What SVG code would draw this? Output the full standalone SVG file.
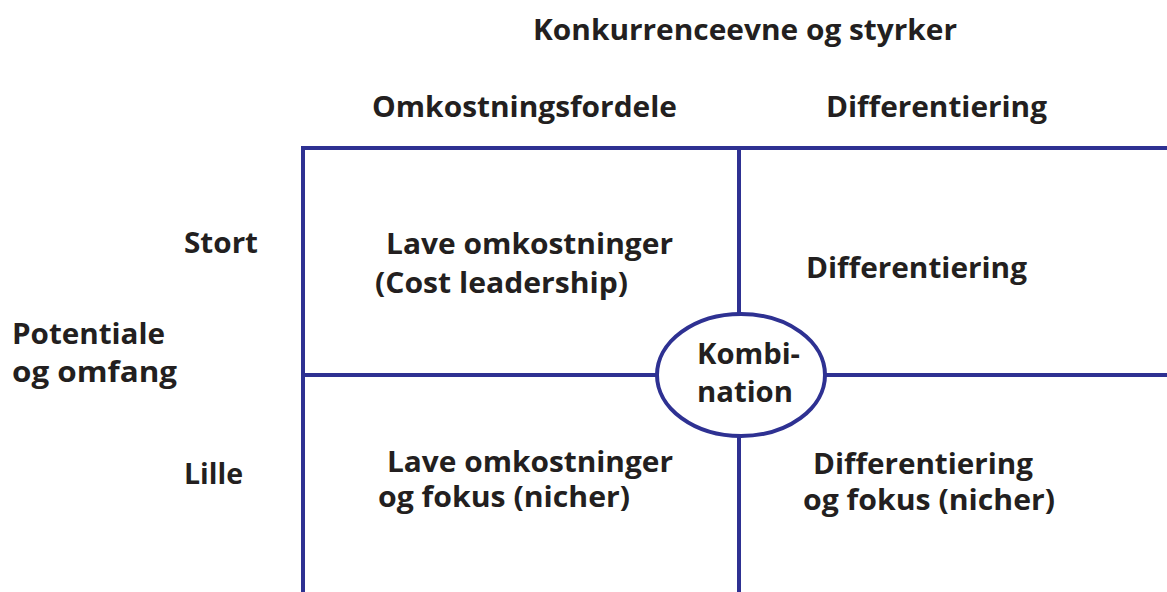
<svg xmlns="http://www.w3.org/2000/svg" width="1167" height="592" viewBox="0 0 1167 592">
<style>
.t{font-family:"Open Sans","DejaVu Sans",sans-serif;font-weight:bold;font-size:28px;fill:#231f20}
.ln{stroke:#2e3192;stroke-width:4;fill:none}
</style>
<rect width="1167" height="592" fill="#fff"/>
<g id="connectors">
<path class="ln" d="M1167 148H303V592"/>
<path class="ln" d="M739 148V313M739 437V592"/>
<path class="ln" d="M303 375H656M826 375H1167"/>
</g>
<g id="title"><text class="t" x="533" y="40" textLength="424" lengthAdjust="spacingAndGlyphs">Konkurrenceevne og styrker</text></g>
<g id="col1"><text class="t" x="372" y="117" textLength="305" lengthAdjust="spacingAndGlyphs">Omkostningsfordele</text></g>
<g id="col2"><text class="t" x="826" y="117" textLength="221" lengthAdjust="spacingAndGlyphs">Differentiering</text></g>
<g id="rowtitle"><text class="t" x="12" y="344" textLength="153" lengthAdjust="spacingAndGlyphs">Potentiale</text><text class="t" x="12" y="382" textLength="165" lengthAdjust="spacingAndGlyphs">og omfang</text></g>
<g id="row1"><text class="t" x="184" y="253" textLength="74" lengthAdjust="spacingAndGlyphs">Stort</text></g>
<g id="row2"><text class="t" x="184" y="484" textLength="59" lengthAdjust="spacingAndGlyphs">Lille</text></g>
<g id="cell11"><text class="t" x="386" y="254" textLength="287" lengthAdjust="spacingAndGlyphs">Lave omkostninger</text><text class="t" x="375" y="293" textLength="253" lengthAdjust="spacingAndGlyphs">(Cost leadership)</text></g>
<g id="cell12"><text class="t" x="806" y="278" textLength="221" lengthAdjust="spacingAndGlyphs">Differentiering</text></g>
<g id="cell21"><text class="t" x="387" y="472" textLength="286" lengthAdjust="spacingAndGlyphs">Lave omkostninger</text><text class="t" x="378" y="507" textLength="252" lengthAdjust="spacingAndGlyphs">og fokus (nicher)</text></g>
<g id="cell22"><text class="t" x="813" y="474" textLength="220" lengthAdjust="spacingAndGlyphs">Differentiering</text><text class="t" x="803" y="510" textLength="252" lengthAdjust="spacingAndGlyphs">og fokus (nicher)</text></g>
<g id="kombination"><ellipse class="ln" cx="741" cy="375" rx="84" ry="61" fill="#fff"/><text class="t" x="697" y="364" textLength="103" lengthAdjust="spacingAndGlyphs">Kombi-</text><text class="t" x="697" y="402" textLength="96" lengthAdjust="spacingAndGlyphs">nation</text></g>
</svg>
